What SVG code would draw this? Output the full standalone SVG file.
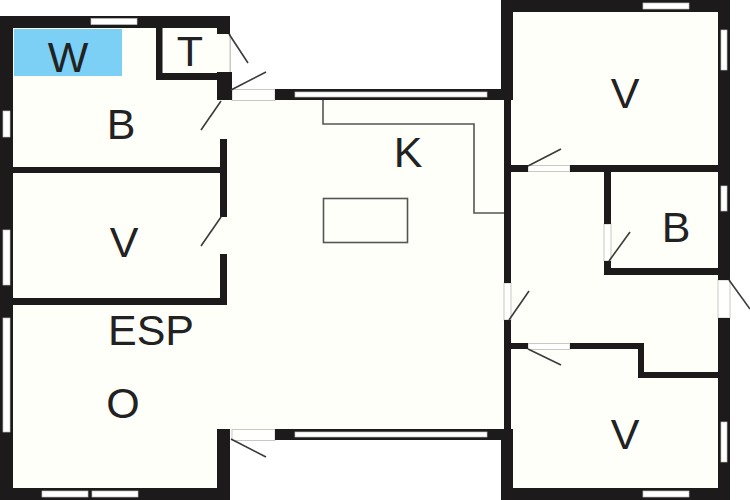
<svg xmlns="http://www.w3.org/2000/svg" width="750" height="500" viewBox="0 0 750 500">
<style>
.f{fill:#fffffa}
.wl{fill:#1c1a1a}
.win{fill:#fff;stroke:#c4c4c0;stroke-width:.7}
.leaf{stroke:#3a3a3a;stroke-width:1.6;fill:none}
.thin{stroke:#555;stroke-width:1.6;fill:none}
.op{fill:#fffffd;stroke:#c8c8c4;stroke-width:1}
text{font-family:"Liberation Sans",Arial,sans-serif;font-size:43px;fill:#222;text-anchor:middle}
</style>
<rect width="750" height="500" fill="#fff"/>
<g id="floor">
<rect class="f" x="0" y="16" width="230" height="484"/>
<rect class="f" x="225" y="98" width="285" height="333"/>
<rect class="f" x="503" y="0" width="227" height="500"/>
<rect x="14" y="29" width="108" height="47" fill="#7dd0f5"/>
</g>
<g id="fixtures">
<path class="thin" d="M323 100V124H474V213H504"/>
<rect class="thin" x="323.500" y="198.500" width="84" height="44"/>
</g>
<g id="openings">
<rect class="op" x="230" y="34" width="0.500" height="38"/>
<rect class="op" x="232" y="89.500" width="43" height="11"/>
<rect class="op" x="232" y="429.500" width="43" height="11"/>
<rect class="op" x="528" y="165.500" width="42" height="6"/>
<rect class="op" x="528" y="343.500" width="42" height="6"/>
<rect class="op" x="504" y="283" width="7" height="37"/>
<rect class="op" x="604" y="224" width="7" height="37"/>
<rect class="op" x="718" y="280" width="12" height="38"/>
</g>
<g id="walls" class="wl">
<rect x="0" y="16" width="230" height="12"/>
<rect x="0" y="16" width="13" height="484"/>
<rect x="0" y="488" width="230" height="12"/>
<rect x="217" y="16" width="13" height="18"/>
<rect x="156" y="28" width="6.500" height="52"/>
<rect x="156" y="73" width="70" height="7"/>
<rect x="217" y="72" width="15" height="28"/>
<rect x="220" y="139" width="7" height="78"/>
<rect x="220" y="254" width="7" height="51"/>
<rect x="13" y="167" width="214" height="6"/>
<rect x="13" y="298" width="214" height="7"/>
<rect x="217" y="429" width="13" height="71"/>
<rect x="275" y="89" width="20" height="11"/>
<rect x="295" y="89" width="192" height="3"/>
<rect x="295" y="97" width="192" height="3"/>
<rect x="487" y="89" width="20" height="11"/>
<rect x="275" y="429" width="20" height="11"/>
<rect x="295" y="429" width="192" height="3"/>
<rect x="295" y="437" width="192" height="3"/>
<rect x="487" y="429" width="20" height="11"/>
<rect x="501" y="0" width="229" height="12"/>
<rect x="501" y="0" width="12" height="100"/>
<rect x="504" y="100" width="7" height="183"/>
<rect x="504" y="320" width="7" height="109"/>
<rect x="501" y="429" width="12" height="71"/>
<rect x="501" y="488" width="229" height="12"/>
<rect x="718" y="0" width="12" height="280"/>
<rect x="718" y="318" width="12" height="182"/>
<rect x="511" y="165" width="17" height="7"/>
<rect x="570" y="165" width="148" height="7"/>
<rect x="604" y="172" width="7" height="52"/>
<rect x="604" y="261" width="7" height="14"/>
<rect x="604" y="268" width="114" height="7"/>
<rect x="511" y="343" width="17" height="6"/>
<rect x="570" y="343" width="74" height="6"/>
<rect x="638" y="343" width="6" height="35"/>
<rect x="638" y="372" width="80" height="6"/>
</g>
<g id="windows">
<rect class="win" x="91" y="18.500" width="46" height="6"/>
<rect class="win" x="3" y="111" width="7" height="26"/>
<rect class="win" x="3" y="230" width="7" height="55"/>
<rect class="win" x="3" y="318" width="7" height="114"/>
<rect class="win" x="42" y="491" width="46" height="6"/>
<rect class="win" x="92" y="491" width="46" height="6"/>
<rect class="win" x="295" y="92" width="192" height="5"/>
<rect class="win" x="295" y="432" width="192" height="5"/>
<rect class="win" x="643" y="3" width="46" height="6"/>
<rect class="win" x="643" y="491" width="46" height="6"/>
<rect class="win" x="721" y="30" width="6" height="40"/>
<rect class="win" x="721" y="186" width="6" height="25"/>
<rect class="win" x="721" y="422" width="6" height="40"/>
</g>
<g id="doors">
<path class="leaf" d="M229 34L248 63"/>
<path class="leaf" d="M231 90L266 72"/>
<path class="leaf" d="M221 101L201 130"/>
<path class="leaf" d="M221 217L201 246"/>
<path class="leaf" d="M231 439L266 457"/>
<path class="leaf" d="M528 166L561 149"/>
<path class="leaf" d="M528 349L561 365"/>
<path class="leaf" d="M509 320L529 291"/>
<path class="leaf" d="M609 261L630 232"/>
<path class="leaf" d="M729 280L750 309"/>
</g>
<g id="labels">
<text x="68" y="72">W</text>
<text x="190" y="66">T</text>
<text x="121" y="139">B</text>
<text x="124" y="257">V</text>
<text x="151" y="345">ESP</text>
<text x="123" y="418">O</text>
<text x="408" y="167">K</text>
<text x="625" y="108">V</text>
<text x="676" y="242">B</text>
<text x="625" y="449">V</text>
</g>
</svg>
